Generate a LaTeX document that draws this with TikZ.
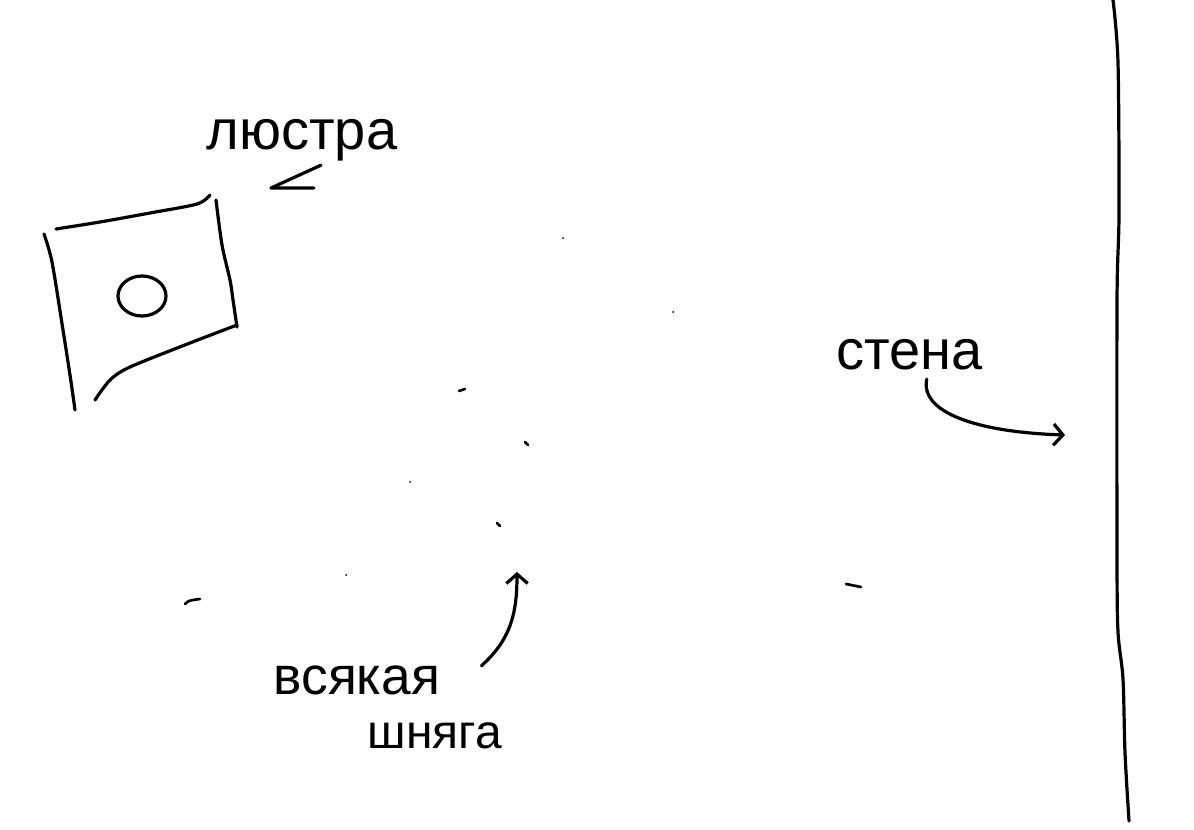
\documentclass[tikz,border=0pt]{standalone}
\usepackage{fontspec}
\setmainfont{Liberation Sans}
\usetikzlibrary{arrows.meta,calc}

\begin{document}
\begin{tikzpicture}[x=0.75pt,y=-0.75pt,line width=2.4pt,line cap=round,line join=round,
  word/.style={anchor=base west,inner sep=0pt,font=\fontsize{42}{44}\selectfont},
  barb/.style={-{Straight Barb[length=7pt,width=16pt,line width=2.4pt]}},
  speck/.style={line width=2pt}]
  \useasboundingbox (0,0) rectangle (1194,830);

  % lamp
  \draw plot[smooth] coordinates {(44,234) (52,262) (63,330) (70,375) (75,410)};
  \draw plot[smooth] coordinates {(56,229) (100,222) (150,213) (197,204) (210,195)};
  \draw plot[smooth] coordinates {(216,200) (222,245) (230,280) (233,300) (237,327)};
  \draw plot[smooth] coordinates {(237,325) (190,343) (130,367) (110,380) (95,400)};
  \draw (142,296) ellipse (24 and 20);

  % wall
  \draw plot[smooth] coordinates {(1113,0) (1118,63) (1119,213) (1117,300) (1117,558) (1118,632) (1123,679) (1125,753) (1129,821)};

  % labels
  \node[word] (lyustra) at (205,150) {люстра};
  \node[word] (stena) at (835,369) {стена};
  \node[word,font=\fontsize{40}{42}\selectfont] (vsyakaya) at (272,694) {всякая};
  \node[word,font=\fontsize{36}{38}\selectfont] (shnyaga) at (366,748) {шняга};

  \coordinate (lampTip) at (271,188);
  \coordinate (wallTip) at (1065,435);
  \coordinate (stuffTip) at (517,572);

  \draw ($(lyustra.south)+(19,2)$) -- (lampTip) -- ++(43,0);
  \draw[barb] ($(stena.south)+(17,8)$) .. controls (920,412) and (975,432) .. (wallTip);
  \draw[barb] ($(vsyakaya.north east)+(40,2)$) .. controls (510,640) and (517,615) .. (stuffTip);

  % specks
  \fill (563,238) circle (1);
  \fill (673,312) circle (1);
  \fill (410,482) circle (1);
  \fill (346,575) circle (1);
  \draw[speck] (459,391) -- (465,389);
  \draw[speck] (525,442) -- (528,445);
  \draw[speck] (497,523) -- (500,526);
  \draw[speck] (185,604) .. controls (188,600) and (193,600) .. (200,599);
  \draw[speck] (846,584) -- (861,587);
\end{tikzpicture}
\end{document}
